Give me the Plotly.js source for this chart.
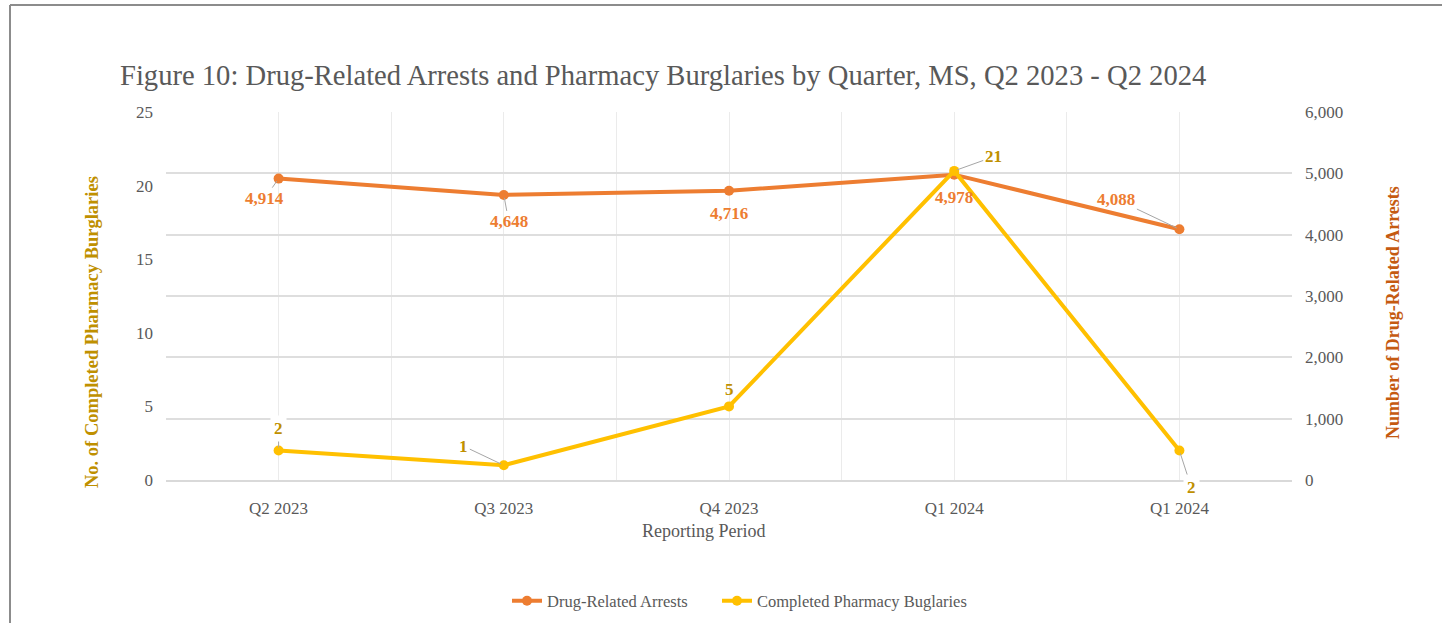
<!DOCTYPE html>
<html>
<head>
<meta charset="utf-8">
<script src="https://cdn.plot.ly/plotly-3.0.1.min.js"></script>
<style>
  html, body { margin: 0; padding: 0; background: #fff; }
  #chart { width: 1442px; height: 623px; }
</style>
</head>
<body>
<div id="chart"></div>
<script>
// ---- data ----
const periods = ["Q2 2023", "Q3 2023", "Q4 2023", "Q1 2024", "Q1 2024"];
const drugArrests = [4914, 4648, 4716, 4978, 4088];
const burglaries = [2, 1, 5, 21, 2];
const leftTicks = [0, 5, 10, 15, 20, 25];
const rightTicks = [0, 1000, 2000, 3000, 4000, 5000, 6000];

// ---- styling / placement ----
const W = 1442, H = 623;
const M = { l: 166, r: 150, t: 112, b: 143, autoexpand: false };
const PW = W - M.l - M.r, PH = H - M.t - M.b;
const px2x = p => (p - M.l) / PW;
const px2y = p => (H - M.b - p) / PH;

const ORANGE = "#ED7D31", YELLOW = "#FFC000";
const ORANGE_LBL = "#ED7D31", GOLD_LBL = "#BF9000";
const GREY = "#595959";
const SERIF = "Liberation Serif, Times New Roman, serif";

const xIdx = periods.map((_, i) => i);
const fmt = v => v.toLocaleString("en-US");

// label offsets (pixels) for each point: [ax, ay, arrow, bg]
const arrestLbl = [[-14, 20, true], [5, 27, true], [0, 23, false], [0, 23, false], [-63, -30, true]];
const burgLbl = [[0, -22, true, true], [-40, -19, true], [0, -17, false], [39, -14, true], [12, 37, true, true]];

const traces = [
  {
    x: xIdx, y: drugArrests, yaxis: "y", name: "Drug-Related Arrests",
    type: "scatter", mode: "lines+markers", legend: "legend",
    line: { color: ORANGE, width: 4 }, marker: { color: ORANGE, size: 10 },
    hoverinfo: "skip"
  },
  {
    x: xIdx, y: burglaries, yaxis: "y2", name: "Completed Pharmacy Buglaries",
    type: "scatter", mode: "lines+markers", legend: "legend2",
    line: { color: YELLOW, width: 4 }, marker: { color: YELLOW, size: 10 },
    hoverinfo: "skip"
  }
];

const annotations = [];
drugArrests.forEach((v, i) => {
  const [ax, ay, arrow] = arrestLbl[i];
  const a = { x: i, y: v, xref: "x", yref: "y", text: "<b>" + fmt(v) + "</b>",
    font: { family: SERIF, size: 17, color: ORANGE_LBL } };
  if (arrow) Object.assign(a, { showarrow: true, ax: ax, ay: ay, arrowhead: 0, arrowwidth: 1, arrowcolor: "#A6A6A6", standoff: 3 });
  else Object.assign(a, { showarrow: false, xshift: ax, yshift: -ay });
  annotations.push(a);
});
burglaries.forEach((v, i) => {
  const [ax, ay, arrow, bg] = burgLbl[i];
  const a = { x: i, y: v, xref: "x", yref: "y2", text: "<b>" + fmt(v) + "</b>",
    font: { family: SERIF, size: 17, color: GOLD_LBL } };
  if (bg) Object.assign(a, { bgcolor: "#FFFFFF", borderpad: 3 });
  if (arrow) Object.assign(a, { showarrow: true, ax: ax, ay: ay, arrowhead: 0, arrowwidth: 1, arrowcolor: "#A6A6A6", standoff: 3 });
  else Object.assign(a, { showarrow: false, xshift: ax, yshift: -ay });
  annotations.push(a);
});

// axis titles
annotations.push({
  text: "<b>No. of Completed Pharmacy Burglaries</b>", textangle: -90,
  xref: "paper", yref: "paper", x: px2x(92), y: px2y(332), xanchor: "center", yanchor: "middle",
  showarrow: false, font: { family: SERIF, size: 18.5, color: GOLD_LBL }
});
annotations.push({
  text: "<b>Number of Drug-Related Arrests</b>", textangle: -90,
  xref: "paper", yref: "paper", x: px2x(1393), y: px2y(313), xanchor: "center", yanchor: "middle",
  showarrow: false, font: { family: SERIF, size: 18, color: "#C55A11" }
});
annotations.push({
  text: "Reporting Period",
  xref: "paper", yref: "paper", x: px2x(704), y: px2y(531), xanchor: "center", yanchor: "middle",
  showarrow: false, font: { family: SERIF, size: 18, color: GREY }
});

const legendBase = {
  orientation: "h", xref: "paper", yref: "paper",
  y: px2y(601), xanchor: "left", yanchor: "middle",
  font: { family: SERIF, size: 16.5, color: GREY }, itemwidth: 30,
  bgcolor: "rgba(0,0,0,0)"
};

const layout = {
  width: W, height: H,
  margin: M,
  paper_bgcolor: "#FFFFFF", plot_bgcolor: "#FFFFFF",
  font: { family: SERIF, color: GREY },
  title: {
    text: "Figure 10: Drug-Related Arrests and Pharmacy Burglaries by Quarter, MS, Q2 2023 - Q2 2024",
    font: { family: SERIF, size: 28.6, color: GREY },
    xref: "container", x: 120 / W, xanchor: "left",
    yref: "container", y: 1 - 75 / H, yanchor: "middle"
  },
  showlegend: true,
  legend: Object.assign({}, legendBase, { x: px2x(507) }),
  legend2: Object.assign({}, legendBase, { x: px2x(717) }),
  xaxis: {
    range: [-0.5, 4.5], tickmode: "array", tickvals: xIdx, ticktext: periods,
    showgrid: true, gridcolor: "#EBEBEB", gridwidth: 1,
    minor: { tickmode: "array", tickvals: [-0.5, 0.5, 1.5, 2.5, 3.5, 4.5], showgrid: true, gridcolor: "#EBEBEB", gridwidth: 1, ticks: "" },
    showline: true, linecolor: "#D9D9D9", linewidth: 2,
    ticks: "", ticklabelstandoff: 12,
    tickfont: { family: SERIF, size: 17, color: GREY },
    zeroline: false, fixedrange: true
  },
  yaxis: {
    side: "right", range: [0, 6000], tickmode: "array", tickvals: rightTicks,
    ticktext: rightTicks.map(fmt),
    showgrid: true, gridcolor: "#DEDEDE", gridwidth: 2,
    zeroline: false, showline: false, ticks: "", ticklabelstandoff: 12,
    tickfont: { family: SERIF, size: 17, color: GREY }, fixedrange: true
  },
  yaxis2: {
    side: "left", overlaying: "y", range: [0, 25], tickmode: "array", tickvals: leftTicks,
    showgrid: false, zeroline: false, showline: false, ticks: "", ticklabelstandoff: 12,
    tickfont: { family: SERIF, size: 17, color: GREY }, fixedrange: true
  },
  annotations: annotations,
  shapes: [
    { type: "line", xref: "paper", yref: "paper", x0: px2x(10), x1: px2x(W + 5), y0: px2y(5), y1: px2y(5), line: { color: "#8C8C8C", width: 2 } },
    { type: "line", xref: "paper", yref: "paper", x0: px2x(10), x1: px2x(10), y0: px2y(5), y1: px2y(H + 5), line: { color: "#8C8C8C", width: 2 } }
  ]
};

Plotly.newPlot("chart", traces, layout, { displayModeBar: false, staticPlot: true });
</script>
</body>
</html>
